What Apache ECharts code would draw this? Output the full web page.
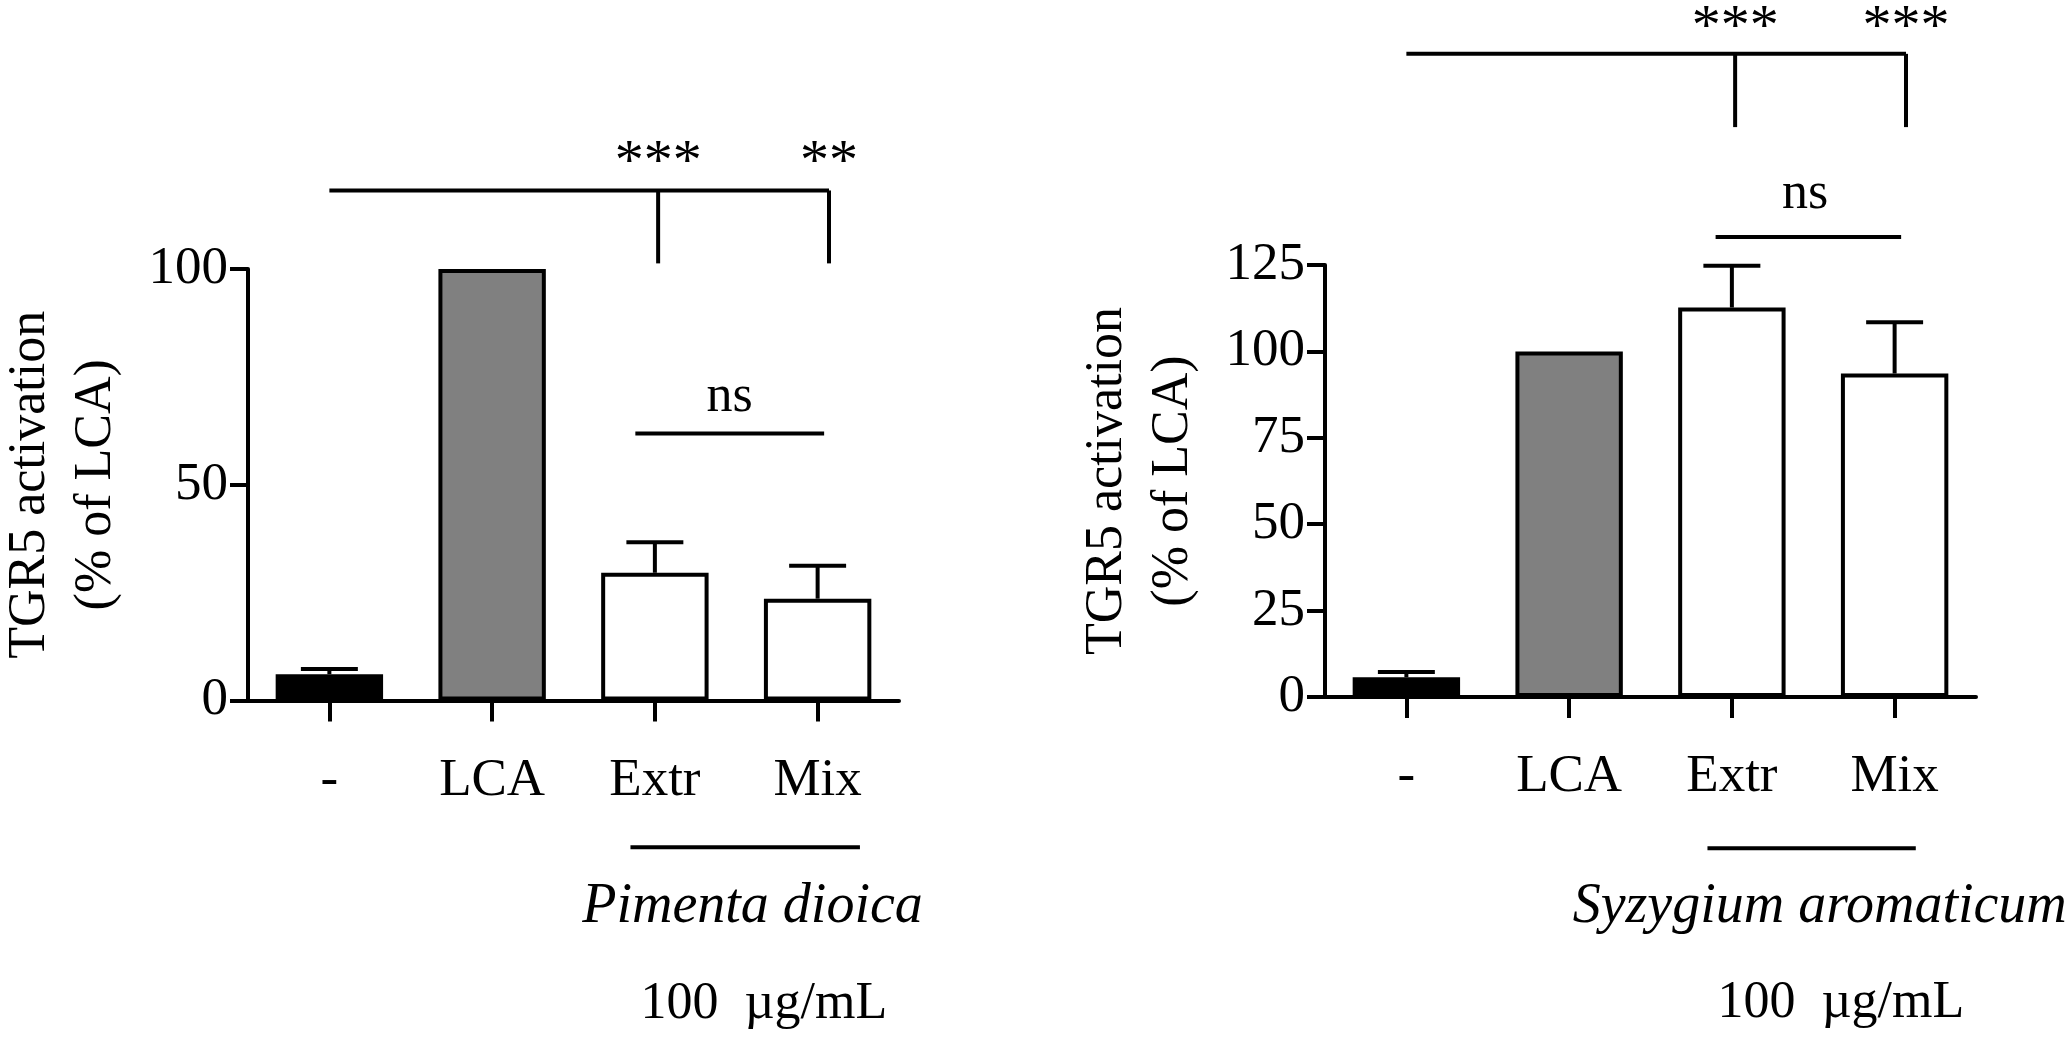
<!DOCTYPE html>
<html>
<head>
<meta charset="utf-8">
<title>TGR5 activation</title>
<script src="https://cdn.jsdelivr.net/npm/echarts@6/dist/echarts.min.js"></script>
<style>
  html, body { margin: 0; padding: 0; background: #fff; }
  #chart { width: 2070px; height: 1043px; }
</style>
</head>
<body>
<div id="chart"></div>
<script>
const categories = ['-', 'LCA', 'Extr', 'Mix'];

// Pimenta dioica panel (mean, SEM)
const pimentaMean = [6.1, 100, 29.6, 23.6];
const pimentaErr = [1.2, 0, 7.1, 7.6];
const pimentaTicks = [0, 50, 100];

// Syzygium aromaticum panel (mean, SEM)
const syzygiumMean = [5.7, 100, 112.7, 93.6];
const syzygiumErr = [1.5, 0, 12.1, 14.8];
const syzygiumTicks = [0, 25, 50, 75, 100, 125];

// bracket / underline segments: [x1, y1, x2, y2] in (category, value) units
const pimentaLines = [
  [0, 118.2, 3.07, 118.2],
  [2.02, 118.2, 2.02, 101.3],
  [3.07, 118.2, 3.07, 101.3],
  [1.88, 61.9, 3.04, 61.9],
  [1.85, -34.0, 3.26, -34.0]
];
const syzygiumLines = [
  [0, 186.1, 3.07, 186.1],
  [2.02, 186.1, 2.02, 164.9],
  [3.07, 186.1, 3.07, 164.9],
  [1.90, 133.1, 3.04, 133.1],
  [1.85, -43.8, 3.13, -43.8]
];

// texts: [x, y, kind, text]
const pimentaLabels = [
  [2.02, 124.3, 'stars', '***'],
  [3.07, 124.3, 'stars', '**'],
  [2.46, 70.2, 'plain', 'ns'],
  [2.60, -47.9, 'species', 'Pimenta dioica'],
  [2.67, -70.3, 'plain', '100  µg/mL']
];
const syzygiumLabels = [
  [2.02, 193.4, 'stars', '***'],
  [3.07, 193.4, 'stars', '***'],
  [2.45, 145.3, 'plain', 'ns'],
  [2.54, -60.9, 'species', 'Syzygium aromaticum'],
  [2.67, -88.7, 'plain', '100  µg/mL']
];

const barColors = ['#000000', '#808080', '#ffffff', '#ffffff'];
const serif = "'Liberation Serif', 'Times New Roman', serif";
const textKinds = {
  stars: { fontSize: 58, fontStyle: 'normal' },
  plain: { fontSize: 52, fontStyle: 'normal' },
  species: { fontSize: 56, fontStyle: 'italic' }
};

//类别坐标 -> 像素 (允许小数位置)
function catX(api, v) {
  const x0 = api.coord([0, 0])[0];
  const band = api.coord([1, 0])[0] - x0;
  return x0 + v * band;
}

function errorBarItem(params, api) {
  const mean = api.value(1);
  const err = api.value(2);
  if (!err) return null;
  const base = api.coord([api.value(0), mean]);
  const top = api.coord([api.value(0), mean + err]);
  const half = api.size([1, 0])[0] * 0.175;
  const style = { stroke: '#000', lineWidth: 4 };
  return {
    type: 'group',
    children: [
      { type: 'line', shape: { x1: base[0], y1: base[1], x2: top[0], y2: top[1] }, style: style },
      { type: 'line', shape: { x1: top[0] - half, y1: top[1], x2: top[0] + half, y2: top[1] }, style: style }
    ]
  };
}

function linesRenderer(lines) {
  return function (params, api) {
    const l = lines[params.dataIndex];
    return {
      type: 'line',
      shape: {
        x1: catX(api, l[0]), y1: api.coord([0, l[1]])[1],
        x2: catX(api, l[2]), y2: api.coord([0, l[3]])[1]
      },
      style: { stroke: '#000', lineWidth: 4, lineCap: 'butt' }
    };
  };
}

function labelsRenderer(labels) {
  return function (params, api) {
    const t = labels[params.dataIndex];
    const k = textKinds[t[2]];
    return {
      type: 'text',
      x: catX(api, t[0]),
      y: api.coord([0, t[1]])[1],
      style: {
        text: t[3],
        fill: '#000',
        fontFamily: serif,
        fontSize: k.fontSize,
        fontStyle: k.fontStyle,
        align: 'center',
        verticalAlign: 'middle'
      }
    };
  };
}

function makeXAxis(gridIndex) {
  return {
    type: 'category',
    gridIndex: gridIndex,
    data: categories,
    axisLine: { show: true, lineStyle: { color: '#000', width: 4 } },
    axisTick: { show: true, alignWithLabel: true, length: 21, lineStyle: { color: '#000', width: 4 } },
    axisLabel: { color: '#000', fontFamily: serif, fontSize: 53, margin: 54 },
    splitLine: { show: false }
  };
}

function makeYAxis(gridIndex, ticks) {
  return {
    type: 'value',
    gridIndex: gridIndex,
    min: ticks[0],
    max: ticks[ticks.length - 1],
    interval: ticks[1] - ticks[0],
    name: 'TGR5 activation\n(% of LCA)',
    nameLocation: 'middle',
    nameRotate: 90,
    nameGap: 119,
    nameTextStyle: { color: '#000', fontFamily: serif, fontSize: 52, lineHeight: 66 },
    axisLine: { show: true, lineStyle: { color: '#000', width: 4 } },
    axisTick: { show: true, inside: false, length: 18, lineStyle: { color: '#000', width: 4 } },
    axisLabel: { color: '#000', fontFamily: serif, fontSize: 53, margin: 20 },
    splitLine: { show: false }
  };
}

function barSeries(idx, values) {
  return {
    type: 'bar',
    xAxisIndex: idx,
    yAxisIndex: idx,
    barWidth: '66%',
    data: values.map(function (v, i) {
      return { value: v, itemStyle: { color: barColors[i] } };
    }),
    itemStyle: { borderColor: '#000', borderWidth: 4 },
    emphasis: { disabled: true },
    z: 2
  };
}

function errSeries(idx, means, errs) {
  return {
    type: 'custom',
    xAxisIndex: idx,
    yAxisIndex: idx,
    renderItem: errorBarItem,
    data: means.map(function (m, i) { return [i, m, errs[i]]; }),
    encode: { x: 0, y: 1 },
    z: 5,
    silent: true
  };
}

function annotationSeries(idx, lines, labels) {
  return [{
    type: 'custom',
    xAxisIndex: idx,
    yAxisIndex: idx,
    renderItem: linesRenderer(lines),
    data: lines.map(function () { return [0, 0]; }),
    clip: false,
    silent: true,
    z: 6
  }, {
    type: 'custom',
    xAxisIndex: idx,
    yAxisIndex: idx,
    renderItem: labelsRenderer(labels),
    data: labels.map(function () { return [0, 0]; }),
    clip: false,
    silent: true,
    z: 6
  }];
}

const chart = echarts.init(document.getElementById('chart'));
const option = {
  backgroundColor: '#fff',
  animation: false,
  grid: [
    { left: 248, top: 269, width: 651, height: 431.5, containLabel: false, outerBoundsMode: 'none' },
    { left: 1325, top: 265, width: 651, height: 432, containLabel: false, outerBoundsMode: 'none' }
  ],
  xAxis: [makeXAxis(0), makeXAxis(1)],
  yAxis: [makeYAxis(0, pimentaTicks), makeYAxis(1, syzygiumTicks)],
  series: [
    barSeries(0, pimentaMean),
    errSeries(0, pimentaMean, pimentaErr),
    barSeries(1, syzygiumMean),
    errSeries(1, syzygiumMean, syzygiumErr)
  ].concat(annotationSeries(0, pimentaLines, pimentaLabels))
   .concat(annotationSeries(1, syzygiumLines, syzygiumLabels))
};
chart.setOption(option);
</script>
</body>
</html>
